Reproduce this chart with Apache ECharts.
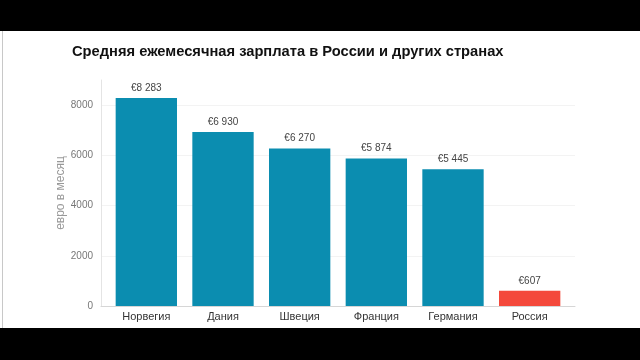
<!DOCTYPE html>
<html><head><meta charset="utf-8">
<script src="https://cdn.jsdelivr.net/npm/echarts@6/dist/echarts.min.js"></script>
<style>
html,body{margin:0;padding:0;background:#000;}
#wrap{position:relative;width:640px;height:360px;overflow:hidden;background:#000;}
#c{position:absolute;left:0;top:0;width:640px;height:360px;background:#fff;}
.band{position:absolute;left:0;width:640px;background:#000;}
#lb{position:absolute;left:2px;top:31px;width:1px;height:297px;background:#c8c8c8;}
</style></head>
<body><div id="wrap"><div id="c"></div>
<div class="band" style="top:0;height:31px"></div>
<div class="band" style="top:328px;height:32px"></div>
<div id="lb"></div></div>
<script>
const titleText = 'Средняя ежемесячная зарплата в России и других странах';
const categories = ['Норвегия','Дания','Швеция','Франция','Германия','Россия'];
const values = [8283, 6930, 6270, 5874, 5445, 607];
const valueLabels = ['€8 283','€6 930','€6 270','€5 874','€5 445','€607'];
const yAxisName = 'евро в месяц';
const yTicks = [0, 2000, 4000, 6000, 8000];

const teal = '#0b8db0', red = '#f4493b';
const chart = echarts.init(document.getElementById('c'), null, {renderer:'canvas'});
chart.setOption({
  animation:false,
  backgroundColor:'#fff',
  title:{text:titleText,left:67,top:39,textStyle:{fontFamily:'Liberation Sans, Arial, sans-serif',fontSize:14.7,fontWeight:'bold',color:'#111'}},
  grid:[
    {left:101,right:65,top:80,bottom:54},
    {left:108,right:72,top:80,bottom:54}
  ],
  xAxis:[
    {gridIndex:0,type:'category',data:categories,axisLine:{lineStyle:{color:'#d6d6d6',width:1}},axisTick:{show:false},axisLabel:{show:false},splitLine:{show:false}},
    {gridIndex:1,type:'category',data:categories,axisLine:{show:false},axisTick:{show:false},
     axisLabel:{margin:5,fontFamily:'Liberation Sans, Arial, sans-serif',fontSize:11,color:'#333'}}
  ],
  yAxis:[
    {gridIndex:0,type:'value',min:0,max:9000,interval:2000,
     name:yAxisName,nameLocation:'middle',nameGap:34,nameRotate:90,nameMoveOverlap:false,
     nameTextStyle:{fontFamily:'Liberation Sans, Arial, sans-serif',fontSize:12,color:'#999'},
     axisLine:{show:true,lineStyle:{color:'#e4e4e4'}},axisTick:{show:false},
     axisLabel:{margin:8,showMaxLabel:false,fontFamily:'Liberation Sans, Arial, sans-serif',fontSize:10,color:'#777',
       formatter:v=>yTicks.indexOf(v)>=0?String(v):''},
     splitLine:{show:true,showMaxLine:false,lineStyle:{color:'#f3f3f3'}}},
    {gridIndex:1,type:'value',min:0,max:9000,show:false,splitLine:{show:false}}
  ],
  series:[{
    type:'bar',xAxisIndex:1,yAxisIndex:1,barWidth:'80%',
    data:values.map((v,i)=>({value:v,itemStyle:{color:i===values.length-1?red:teal}})),
    label:{show:true,position:'top',distance:5,fontFamily:'Liberation Sans, Arial, sans-serif',fontSize:10,color:'#444',
      formatter:p=>valueLabels[p.dataIndex]}
  }]
});
</script></body></html>
